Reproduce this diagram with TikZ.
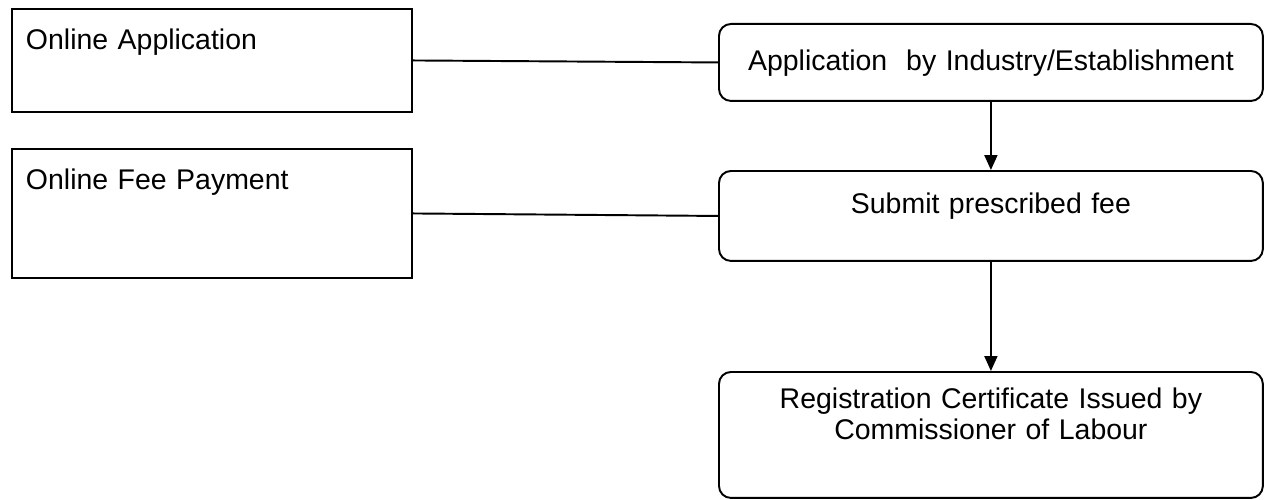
\documentclass[tikz,border=0pt]{standalone}
\usepackage{fontspec}
\setmainfont{Liberation Sans}
\usetikzlibrary{arrows.meta}
\begin{document}
\begin{tikzpicture}[x=0.02cm,y=-0.02cm]
  \tikzset{online/.style = {draw, line width=1.1pt, rectangle, anchor=north west, minimum width=8cm, text width=7.44cm, align=left, inner xsep=0.28cm, inner ysep=0pt, font=\fontsize{16.2}{17.2}\selectfont}}
  \tikzset{stage/.style = {draw, line width=1.1pt, rounded corners=0.24cm, anchor=north west, minimum width=10.88cm, text width=10.3cm, align=center, inner xsep=0.29cm, inner ysep=0pt, font=\fontsize{16.2}{17.2}\selectfont}}
  \tikzset{link/.style = {-, line width=1.1pt}}
  \tikzset{flow/.style = {-{Triangle[width=0.26cm,length=0.3cm]}, line width=1.1pt}}

\useasboundingbox (0,0) rectangle (1267,500);

\node[online, text height=0.82cm, text depth=1.24cm] (onapp)  at (11,8) {Online Application};
\node[online, text height=0.82cm, text depth=1.76cm] (onfee)  at (11,148) {Online Fee Payment};

\node[stage, text height=0.94cm, text depth=0.6cm] (apply)  at (718,23) {Application\ \ by Industry/Establishment};
\node[stage, text height=0.86cm, text depth=0.94cm] (fee)  at (718,170) {Submit prescribed fee};
\node[stage, text height=0.74cm, text depth=1.78cm] (cert)  at (718,371) {Registration Certificate Issued by\\ Commissioner of Labour};

  
    \path (onapp.east) edge[link] (apply.west);
    \path (onfee.east) edge[link] (fee.west);

    \path (apply) edge[flow] (fee);
    \path (fee) edge[flow] (cert);

\end{tikzpicture}
\end{document}
